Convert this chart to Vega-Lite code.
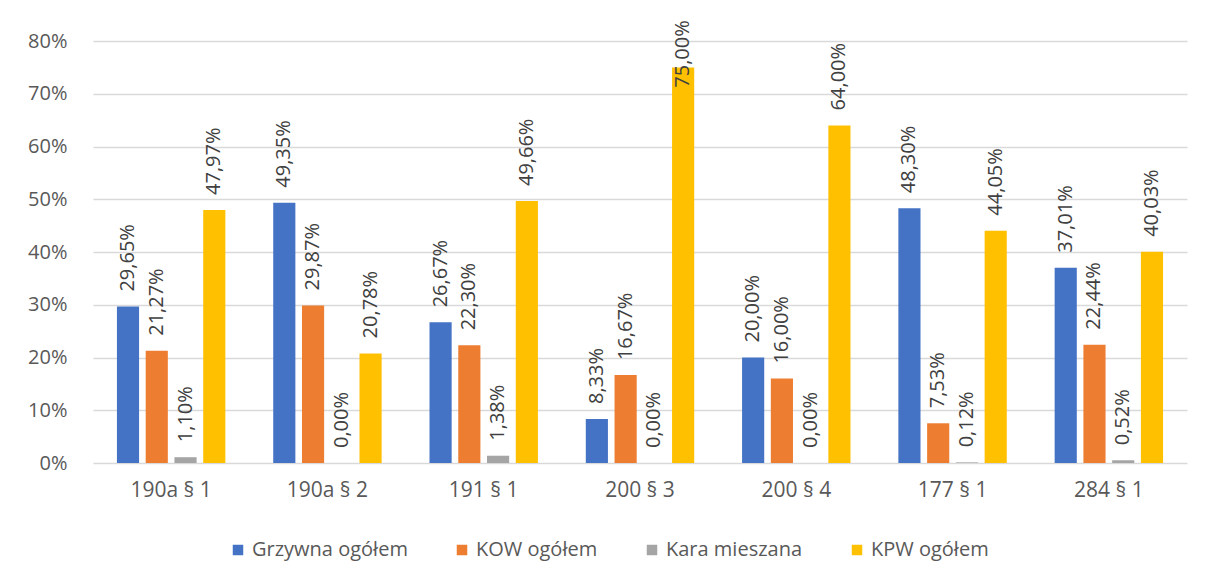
{
  "$schema": "https://vega.github.io/schema/vega-lite/v6.json",
  "width": 1094,
  "height": 422,
  "autosize": {"type": "none"},
  "padding": {"left": 93, "top": 41, "right": 28, "bottom": 117},
  "background": "#ffffff",
  "config": {
    "locale": {"number": {"decimal": ",", "thousands": " ", "grouping": [3], "currency": ["", " zł"]}},
    "font": "Open Sans",
    "view": {"stroke": null},
    "axis": {"labelFont": "Open Sans", "labelFontSize": 20, "labelColor": "#595959", "domain": false, "ticks": false, "labelOverlap": false},
    "legend": {"labelFont": "Open Sans", "labelFontSize": 20, "labelColor": "#595959"}
  },
  "data": {
    "values": [
      {"cat": "190a § 1", "series": "Grzywna ogółem", "value": 0.2965},
      {"cat": "190a § 1", "series": "KOW ogółem", "value": 0.2127},
      {"cat": "190a § 1", "series": "Kara mieszana", "value": 0.0110},
      {"cat": "190a § 1", "series": "KPW ogółem", "value": 0.4797},
      {"cat": "190a § 2", "series": "Grzywna ogółem", "value": 0.4935},
      {"cat": "190a § 2", "series": "KOW ogółem", "value": 0.2987},
      {"cat": "190a § 2", "series": "Kara mieszana", "value": 0.0},
      {"cat": "190a § 2", "series": "KPW ogółem", "value": 0.2078},
      {"cat": "191 § 1", "series": "Grzywna ogółem", "value": 0.2667},
      {"cat": "191 § 1", "series": "KOW ogółem", "value": 0.2230},
      {"cat": "191 § 1", "series": "Kara mieszana", "value": 0.0138},
      {"cat": "191 § 1", "series": "KPW ogółem", "value": 0.4966},
      {"cat": "200 § 3", "series": "Grzywna ogółem", "value": 0.0833},
      {"cat": "200 § 3", "series": "KOW ogółem", "value": 0.1667},
      {"cat": "200 § 3", "series": "Kara mieszana", "value": 0.0},
      {"cat": "200 § 3", "series": "KPW ogółem", "value": 0.75},
      {"cat": "200 § 4", "series": "Grzywna ogółem", "value": 0.20},
      {"cat": "200 § 4", "series": "KOW ogółem", "value": 0.16},
      {"cat": "200 § 4", "series": "Kara mieszana", "value": 0.0},
      {"cat": "200 § 4", "series": "KPW ogółem", "value": 0.64},
      {"cat": "177 § 1", "series": "Grzywna ogółem", "value": 0.4830},
      {"cat": "177 § 1", "series": "KOW ogółem", "value": 0.0753},
      {"cat": "177 § 1", "series": "Kara mieszana", "value": 0.0012},
      {"cat": "177 § 1", "series": "KPW ogółem", "value": 0.4405},
      {"cat": "284 § 1", "series": "Grzywna ogółem", "value": 0.3701},
      {"cat": "284 § 1", "series": "KOW ogółem", "value": 0.2244},
      {"cat": "284 § 1", "series": "Kara mieszana", "value": 0.0052},
      {"cat": "284 § 1", "series": "KPW ogółem", "value": 0.4003}
    ]
  },
  "encoding": {
    "x": {
      "field": "cat", "type": "nominal",
      "sort": ["190a § 1", "190a § 2", "191 § 1", "200 § 3", "200 § 4", "177 § 1", "284 § 1"],
      "scale": {"paddingInner": 0.264, "paddingOuter": 0.132},
      "axis": {"title": null, "labelAngle": 0, "labelPadding": 16, "grid": false, "labelFontSize": 21}
    },
    "xOffset": {
      "field": "series", "type": "nominal",
      "sort": ["Grzywna ogółem", "KOW ogółem", "Kara mieszana", "KPW ogółem"],
      "scale": {"paddingInner": 0.23, "paddingOuter": 0.115}
    }
  },
  "layer": [
    {
      "mark": {"type": "bar"},
      "encoding": {
        "y": {
          "field": "value", "type": "quantitative",
          "scale": {"domain": [0, 0.8]},
          "axis": {"title": null, "format": ".0%", "values": [0, 0.1, 0.2, 0.3, 0.4, 0.5, 0.6, 0.7, 0.8], "grid": true, "gridColor": "#D9D9D9", "gridWidth": 1.5, "labelPadding": 26}
        },
        "color": {
          "field": "series", "type": "nominal",
          "sort": ["Grzywna ogółem", "KOW ogółem", "Kara mieszana", "KPW ogółem"],
          "scale": {"domain": ["Grzywna ogółem", "KOW ogółem", "Kara mieszana", "KPW ogółem"], "range": ["#4472C4", "#ED7D31", "#A5A5A5", "#FFC000"]},
          "legend": {"orient": "none", "legendX": 135, "legendY": 499, "direction": "horizontal", "title": null, "symbolType": "square", "symbolSize": 110, "symbolStrokeWidth": 0, "labelOffset": 4, "columnPadding": 44}
        }
      }
    },
    {
      "transform": [{"calculate": "min(datum.value, 0.683)", "as": "labelPos"}],
      "mark": {"type": "text", "angle": 270, "align": "left", "baseline": "middle", "dx": 15, "fontSize": 20, "color": "#404040", "font": "Open Sans"},
      "encoding": {
        "y": {"field": "labelPos", "type": "quantitative"},
        "text": {"field": "value", "type": "quantitative", "format": ".2%"}
      }
    }
  ]
}
